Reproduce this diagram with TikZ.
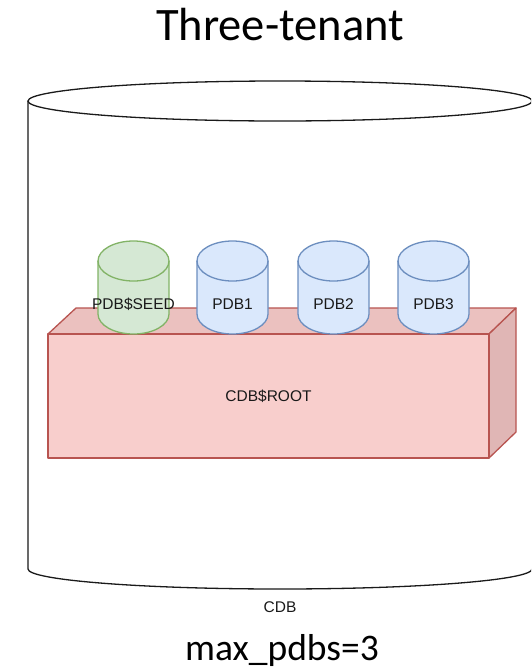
\documentclass[tikz,border=0pt]{standalone}
\usepackage{fontspec}
\setmainfont{Liberation Sans}
\newfontfamily\calfont{Carlito}
\definecolor{gfill}{HTML}{D5E8D4}
\definecolor{gline}{HTML}{82B366}
\definecolor{bfill}{HTML}{DAE8FC}
\definecolor{bline}{HTML}{6C8EBF}
\definecolor{rfill}{HTML}{F8CECC}
\definecolor{rline}{HTML}{B85450}
\definecolor{rtop}{HTML}{EBC1BF}
\definecolor{rside}{HTML}{E0B6B5}
\definecolor{cdbline}{HTML}{1A1A1A}
\tikzset{
  cdbstroke/.style={draw=cdbline, line width=1.3pt},
  cubeface/.style={draw=rline, line width=1.3pt, line join=round},
  lbl/.style={font=\fontsize{15.5}{18}\selectfont, text=black!90, inner sep=0pt, anchor=base},
  bigtxt/.style={font=\calfont\fontsize{46.5}{52}\selectfont, inner sep=0pt, anchor=base},
}
% cylinder: #1 left x, #2 fill, #3 line
\newcommand{\smallcyl}[3]{%
  \fill[#2] (#1,261) -- (#1,314) arc[start angle=180, end angle=0, x radius=35.5, y radius=20]
     -- ({#1+71},261) arc[start angle=0, end angle=-180, x radius=35.5, y radius=20] -- cycle;
  \draw[#3, line width=1.3pt] (#1,261) -- (#1,314) arc[start angle=180, end angle=0, x radius=35.5, y radius=20]
     -- ({#1+71},261) arc[start angle=0, end angle=-180, x radius=35.5, y radius=20];
  \draw[#3, line width=1.3pt] (#1,261) arc[start angle=180, end angle=0, x radius=35.5, y radius=20];
}
\begin{document}
\begin{tikzpicture}[x=1pt, y=-1pt]
\useasboundingbox (0,0) rectangle (531,670);
\fill[white] (0,0) rectangle (531,670);
\begin{scope}
\clip (0,0) rectangle (531,670);
% big CDB cylinder
\draw[cdbstroke] (28,101) -- (28,569) arc[start angle=180, end angle=0, x radius=252, y radius=20] -- (532,101);
\draw[cdbstroke, fill=white] (280,101) ellipse[x radius=252, y radius=20];
\end{scope}
% CDB$ROOT cube
\filldraw[cubeface, fill=rtop] (48,334) -- (76,308) -- (516,308) -- (489,334) -- cycle;
\filldraw[cubeface, fill=rside] (489,334) -- (516,308) -- (516,432) -- (489,458) -- cycle;
\filldraw[cubeface, fill=rfill] (48,334) rectangle (489,458);
% PDB cylinders
\smallcyl{98}{gfill}{gline}
\smallcyl{197}{bfill}{bline}
\smallcyl{298}{bfill}{bline}
\smallcyl{398}{bfill}{bline}
% labels
\node[bigtxt] (title) at (280,40) {Three-tenant};
\node[lbl] (seed) at (133.5,309) {PDB\$SEED};
\node[lbl] (pdb1) at (232.5,309) {PDB1};
\node[lbl] (pdb2) at (333.5,309) {PDB2};
\node[lbl] (pdb3) at (433.5,309) {PDB3};
\node[lbl] (root) at (268.5,401.5) {CDB\$ROOT};
\node[lbl] (cdb) at (280,612) {CDB};
\node[bigtxt, font=\calfont\fontsize{37.5}{42}\selectfont] (maxp) at (282,660) {max\_pdbs=3};
\end{tikzpicture}
\end{document}
